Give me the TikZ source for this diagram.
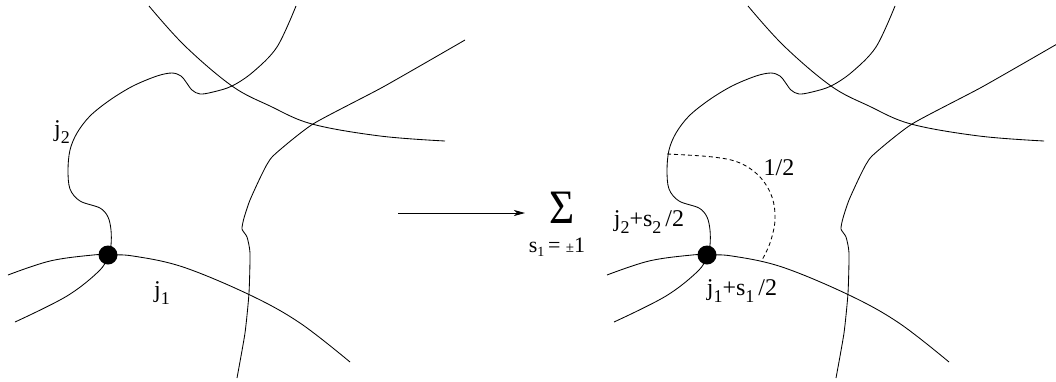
\documentclass[tikz,border=0pt]{standalone}
\usepackage{fontspec}
\setmainfont{Liberation Serif}
\usetikzlibrary{arrows.meta}
\newcommand\sbs[1]{\raisebox{-0.28em}{\fontsize{18}{18}\selectfont #1}}
\tikzset{
  curve/.style={line width=0.85pt, line join=round},
  dashcurve/.style={line width=0.85pt, dash pattern=on 4pt off 3pt},
  lbl/.style={font=\fontsize{24}{27}\selectfont, inner sep=0pt},
  vertex/.style={circle, fill=black, minimum size=19pt, inner sep=0pt},
}
\newcommand\drawpanel[1]{%
  \coordinate (#1c) at (108,255);
  % curve A
  \draw[curve] plot[smooth,tension=0.6] coordinates {(149,6) (185,46) (232,86) (270,106) (312,124) (380,136) (445,141)};
  % curve B continuing as j2 strand
  \draw[curve] plot[smooth,tension=0.55] coordinates {(296,6) (277,47) (253,72) (232,86) (213,92) (200,94) (192,90) (186,82) (181,76) (172,73) (157,76) (133,86) (110,100) (90,116) (77,133) (70,150) (68,170) (70,189) (80,201) (100,208) (108,217) (111,230) (111,245) (#1c)};
  % j1 strand
  \draw[curve] plot[smooth,tension=0.6] coordinates {(8,275) (50,261) (93,255) (#1c) (133,256) (183,267) (250,295) (300,323) (350,362)};
  % lower left strand
  \draw[curve] plot[smooth,tension=0.6] coordinates {(#1c) (100,270) (67,296) (15,322)};
  % right strand
  \draw[curve] plot[smooth,tension=0.35] coordinates {(465,40) (383,87) (313,124) (273,156) (262,174) (250,200) (244,218) (242,229) (247,237) (250,253) (249,293) (245,333) (237,378)};
}
\begin{document}
\begin{tikzpicture}[x=1pt,y=-1pt]
  \useasboundingbox (0,0) rectangle (1056,381);
  \clip (0,0) rectangle (1056,381);
  % left panel
  \drawpanel{L}
  \node[vertex] (Ldot) at (Lc) {};
  \node[lbl] (Lj2) at (62,132) {j\sbs{2}};
  \node[lbl] (Lj1) at (162,293) {j\sbs{1}};
  % arrow and sum
  \coordinate (arrS) at (398,213);
  \coordinate (arrE) at (525,213);
  \draw[line width=0.85pt, -{Stealth[length=11pt,width=6pt,inset=3pt]}] (arrS) -- (arrE);
  \node[inner sep=0pt, font=\fontsize{48}{48}\selectfont] (sum) at (562,208) {\scalebox{0.9}[1]{Σ}};
  \node[inner sep=0pt, font=\fontsize{22}{23}\selectfont, anchor=base] (sumsub) at (557,252) {s\raisebox{-0.2em}{\fontsize{14}{14}\selectfont 1}\,= {\fontsize{15}{15}\selectfont ±}1};
  % right panel
  \begin{scope}[xshift=599pt]
    \drawpanel{R}
    \draw[dashcurve] plot[smooth,tension=0.6] coordinates {(68,154) (114,157) (141,163) (161,177) (173,197) (176,220) (171,243) (163,260)};
    \node[vertex] (Rdot) at (Rc) {};
  \end{scope}
  \node[lbl] (Rhalf) at (779,168) {1/2};
  \node[lbl] (Rj2) at (649,222) {j\sbs{2}+s\sbs{2}\,/2};
  \node[lbl] (Rj1) at (742,291) {j\sbs{1}+s\sbs{1}\,/2};
\end{tikzpicture}
\end{document}
